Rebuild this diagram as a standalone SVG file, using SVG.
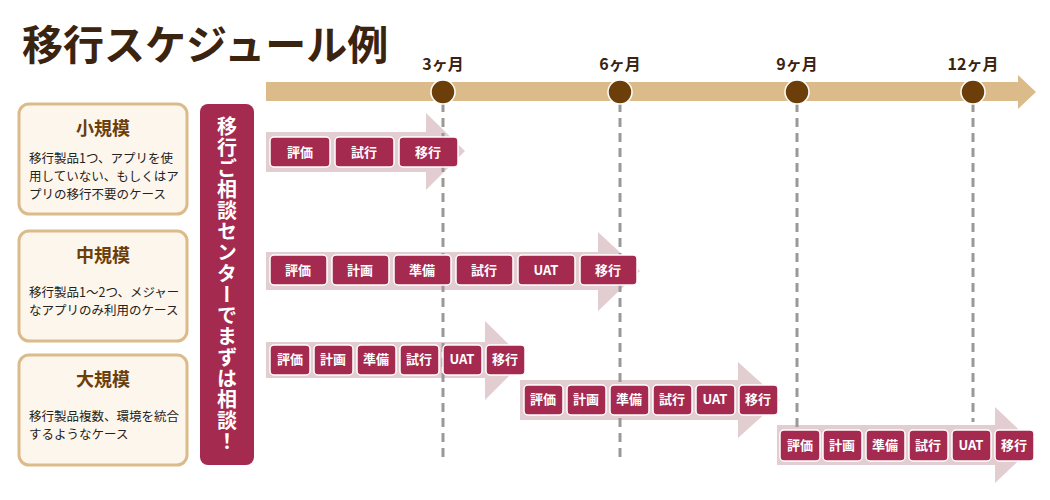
<svg xmlns="http://www.w3.org/2000/svg" width="1050" height="500" viewBox="0 0 1050 500">
<style>
text{font-family:"Noto Sans CJK JP","Noto Sans",sans-serif}
.card{fill:#fdf6ec;stroke:#dcbb8a;stroke-width:3}
.ct{fill:#6b3e0a;font-size:18px;font-weight:bold;text-anchor:middle}
.cd{fill:#222;font-size:12.5px}
.band{fill:#e2cdd1}
.b{fill:#a52a50;stroke:#fff;stroke-width:1.5}
.bt{fill:#fff;font-size:13px;font-weight:bold;text-anchor:middle}
.m{fill:#3a2410;font-size:16px;font-weight:bold;text-anchor:middle}
.dash{stroke:#999;stroke-width:3;stroke-dasharray:9 6}
</style>
<text x="22" y="60" font-size="41" font-weight="bold" fill="#3a2410">移行スケジュール例</text>
<g id="timeline">
<polygon points="266,82 1018,82 1018,75 1036,92 1018,109 1018,101 266,101" fill="#dcbb8a"/>
<text class="m" x="443" y="70">3ヶ月</text><text class="m" x="620" y="70">6ヶ月</text><text class="m" x="797" y="70">9ヶ月</text><text class="m" x="973" y="70">12ヶ月</text>
</g>
<g id="bands">
<polygon class="band" points="266,132 426,132 426,113 465,151 426,190 426,172 266,172"/>
<polygon class="band" points="266,252 598,252 598,232 640,271 598,311 598,290 266,290"/>
<polygon class="band" points="266,342 485,342 485,321 525,360 485,400 485,378 266,378"/>
<polygon class="band" points="520,380 738,380 738,362 780,400 738,438 738,420 520,420"/>
<polygon class="band" points="777,425 995,425 995,407 1035,445 995,483 995,465 777,465"/>
</g>
<g id="connectors">
<line class="dash" x1="443" y1="103" x2="443" y2="458"/>
<line class="dash" x1="620" y1="103" x2="620" y2="458"/>
<line class="dash" x1="797" y1="103" x2="797" y2="458"/>
<line class="dash" x1="973" y1="103" x2="973" y2="422"/>
</g>
<g fill="#6b3e0a" stroke="#fff" stroke-width="1.5">
<circle cx="443" cy="92" r="12"/><circle cx="620" cy="92" r="12"/><circle cx="797" cy="92" r="12"/><circle cx="973" cy="92" r="12"/>
</g>
<g id="small">
<rect class="card" x="19" y="104" width="168" height="110" rx="10"/>
<text class="ct" x="103" y="135">小規模</text>
<text class="cd" x="29" y="163">移行製品1つ、アプリを使</text>
<text class="cd" x="29" y="181">用していない、もしくはア</text>
<text class="cd" x="29" y="199">プリの移行不要のケース</text>
</g>
<g id="medium">
<rect class="card" x="19" y="231" width="168" height="110" rx="10"/>
<text class="ct" x="103" y="262">中規模</text>
<text class="cd" x="29" y="297">移行製品1〜2つ、メジャー</text>
<text class="cd" x="29" y="315">なアプリのみ利用のケース</text>
</g>
<g id="large">
<rect class="card" x="19" y="355" width="168" height="110" rx="10"/>
<text class="ct" x="103" y="386">大規模</text>
<text class="cd" x="29" y="421">移行製品複数、環境を統合</text>
<text class="cd" x="29" y="439">するようなケース</text>
</g>
<g id="center">
<rect x="200" y="104" width="54" height="361" rx="8" fill="#a52a50"/>
<text x="227" y="116" fill="#fff" font-size="20" font-weight="bold" style="writing-mode:vertical-rl" letter-spacing="1">移行ご相談センターでまずは相談！</text>
</g>
<g id="row1">
<rect class="b" x="270" y="137" width="60" height="30" rx="4"/><text class="bt" x="300" y="157">評価</text>
<rect class="b" x="335" y="137" width="59" height="30" rx="4"/><text class="bt" x="364" y="157">試行</text>
<rect class="b" x="399" y="137" width="59" height="30" rx="4"/><text class="bt" x="428" y="157">移行</text>
</g>
<g id="row2">
<rect class="b" x="270" y="255" width="57" height="30" rx="4"/><text class="bt" x="298" y="275">評価</text>
<rect class="b" x="332" y="255" width="57" height="30" rx="4"/><text class="bt" x="360" y="275">計画</text>
<rect class="b" x="394" y="255" width="57" height="30" rx="4"/><text class="bt" x="422" y="275">準備</text>
<rect class="b" x="456" y="255" width="57" height="30" rx="4"/><text class="bt" x="484" y="275">試行</text>
<rect class="b" x="518" y="255" width="57" height="30" rx="4"/><text class="bt" x="546" y="275">UAT</text>
<rect class="b" x="580" y="255" width="57" height="30" rx="4"/><text class="bt" x="608" y="275">移行</text>
</g>
<g id="row3a">
<rect class="b" x="270" y="345" width="40" height="30" rx="4"/><text class="bt" x="290" y="364" font-size="12">評価</text>
<rect class="b" x="314" y="345" width="39" height="30" rx="4"/><text class="bt" x="333" y="364" font-size="12">計画</text>
<rect class="b" x="357" y="345" width="39" height="30" rx="4"/><text class="bt" x="376" y="364" font-size="12">準備</text>
<rect class="b" x="400" y="345" width="39" height="30" rx="4"/><text class="bt" x="419" y="364" font-size="12">試行</text>
<rect class="b" x="443" y="345" width="39" height="30" rx="4"/><text class="bt" x="462" y="364" font-size="12">UAT</text>
<rect class="b" x="486" y="345" width="39" height="30" rx="4"/><text class="bt" x="505" y="364" font-size="12">移行</text>
</g>
<g id="row3b">
<rect class="b" x="524" y="385" width="39" height="30" rx="4"/><text class="bt" x="543" y="404" font-size="12">評価</text>
<rect class="b" x="567" y="385" width="39" height="30" rx="4"/><text class="bt" x="586" y="404" font-size="12">計画</text>
<rect class="b" x="610" y="385" width="39" height="30" rx="4"/><text class="bt" x="629" y="404" font-size="12">準備</text>
<rect class="b" x="653" y="385" width="39" height="30" rx="4"/><text class="bt" x="672" y="404" font-size="12">試行</text>
<rect class="b" x="696" y="385" width="39" height="30" rx="4"/><text class="bt" x="715" y="404" font-size="12">UAT</text>
<rect class="b" x="739" y="385" width="39" height="30" rx="4"/><text class="bt" x="758" y="404" font-size="12">移行</text>
</g>
<g id="row3c">
<rect class="b" x="780" y="430" width="40" height="31" rx="4"/><text class="bt" x="800" y="450" font-size="12">評価</text>
<rect class="b" x="823" y="430" width="39" height="31" rx="4"/><text class="bt" x="842" y="450" font-size="12">計画</text>
<rect class="b" x="866" y="430" width="39" height="31" rx="4"/><text class="bt" x="885" y="450" font-size="12">準備</text>
<rect class="b" x="909" y="430" width="39" height="31" rx="4"/><text class="bt" x="928" y="450" font-size="12">試行</text>
<rect class="b" x="952" y="430" width="39" height="31" rx="4"/><text class="bt" x="971" y="450" font-size="12">UAT</text>
<rect class="b" x="995" y="430" width="39" height="31" rx="4"/><text class="bt" x="1014" y="450" font-size="12">移行</text>
</g>
</svg>
